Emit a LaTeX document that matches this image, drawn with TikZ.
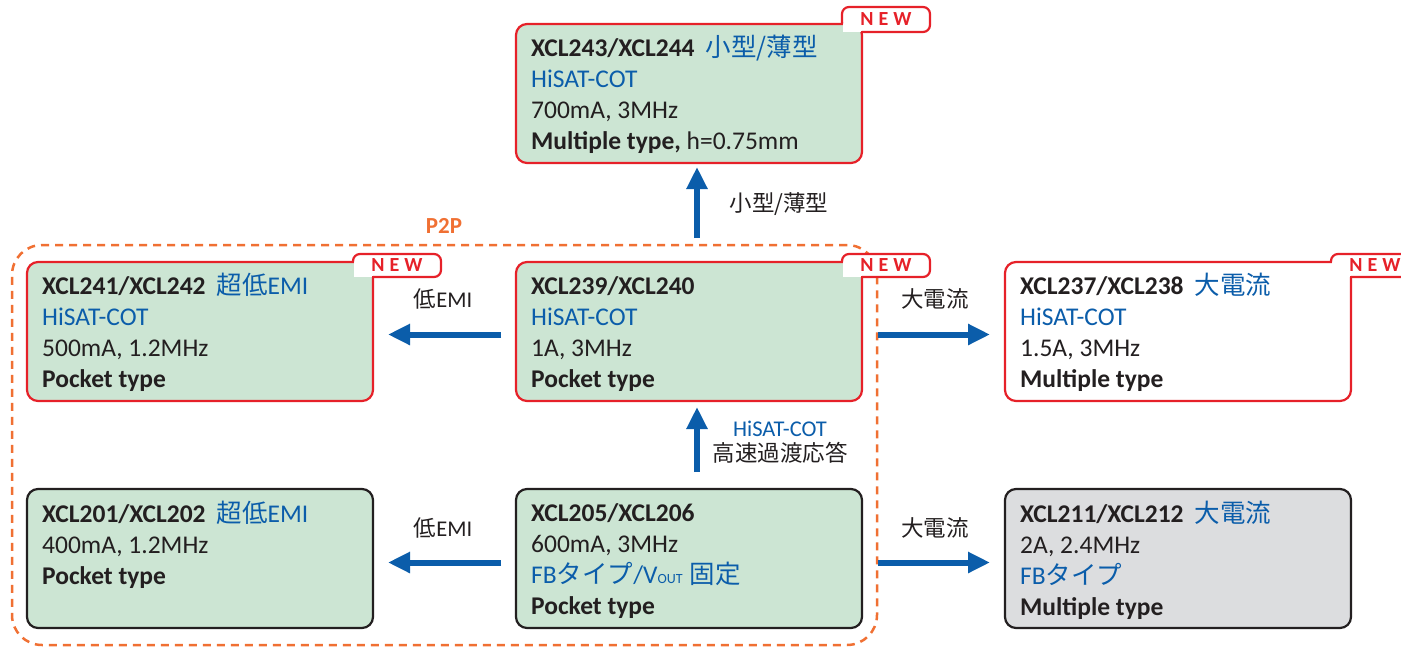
\documentclass[tikz,border=0pt]{standalone}
\usepackage{fontspec}
\setmainfont{Carlito}
\newfontfamily\jp{Noto Sans CJK JP}
\usetikzlibrary{arrows.meta,calc}
\definecolor{boxgreen}{HTML}{CCE5D3}
\definecolor{boxgray}{HTML}{DCDDDF}
\definecolor{nred}{HTML}{E62129}
\definecolor{nblue}{HTML}{0B5DAA}
\definecolor{ndark}{HTML}{231F20}
\definecolor{norange}{HTML}{F07033}
\newcommand\J[1]{{\jp #1}}
\newcommand\B[1]{{\color{nblue}#1}}
% #1 tag name, #2 card name, #3 top offset, #4 bottom offset
\newcommand\newtag[4]{%
  \coordinate (#1-ne) at (#2.north east);
  \fill[white] ($(#1-ne)+(-19,-1.5)$) rectangle ($(#1-ne)+(1.6,#4)$);
  \fill[white, rounded corners=7pt] ($(#1-ne)+(-20,0)$) -- ($(#1-ne)+(-20,#3)$) -- ($(#1-ne)+(68,#3)$) -- ($(#1-ne)+(68,#4)$) -- ($(#1-ne)+(0,#4)$) -- cycle;
  \draw[nred, line width=2.2pt, rounded corners=7pt] ($(#1-ne)+(-20,0)$) -- ($(#1-ne)+(-20,#3)$) -- ($(#1-ne)+(68,#3)$) -- ($(#1-ne)+(68,#4)$) -- ($(#1-ne)+(0,#4)$);
  \draw[nred, line width=2.2pt] ($(#1-ne)+(0,#4-1.1)$) -- ($(#1-ne)+(0,#4+6)$);
  \node[newtxt] (#1) at ($(#1-ne)+(24,{(#3+#4)/2})$) {N\kern5pt E\kern5pt W};
}
\begin{document}
\begin{tikzpicture}[x=1pt,y=-1pt,
  card/.style={draw, line width=2.2pt, rounded corners=11pt, minimum width=346pt, minimum height=139pt, anchor=north west, inner sep=0pt, outer sep=0pt},
  redcard/.style={card, draw=nred, fill=boxgreen},
  redwhite/.style={card, draw=nred, fill=white},
  darkcard/.style={card, draw=ndark, fill=boxgreen},
  graycard/.style={card, draw=ndark, fill=boxgray},
  txt/.style={anchor=base west, inner sep=0pt, text=ndark, font=\fontsize{25.5}{31}\selectfont},
  lab/.style={anchor=base, inner sep=0pt, text=ndark, font=\fontsize{22.5}{27}\selectfont},
  newtxt/.style={inner sep=0pt, text=nred, font=\fontsize{20}{20}\selectfont\bfseries},
  arr/.style={draw=nblue, line width=6pt, -{Triangle[width=20pt,length=22pt]}},
  frame/.style={draw=norange, line width=2.5pt, dash pattern=on 8pt off 6pt, rounded corners=30pt, minimum width=865pt, minimum height=400pt, anchor=north west, inner sep=0pt, outer sep=0pt}
]
\useasboundingbox (0,0) rectangle (1401,646);

% P2P frame
\node[frame] (p2p) at (12,245) {};
\node[lab, text=norange, font=\fontsize{23}{27}\selectfont\bfseries] (p2plab) at (444,233) {P2P};

% cards
\node[redcard] (b243) at (516,24) {};
\node[redcard] (b241) at (27,262) {};
\node[redcard] (b239) at (516,262) {};
\node[redwhite] (b237) at (1005,262) {};
\node[darkcard] (b201) at (27,489) {};
\node[darkcard] (b205) at (516,489) {};
\node[graycard] (b211) at (1005,489) {};

% NEW tags
\newtag{t243}{b243}{-17}{8}
\newtag{t241}{b241}{-8}{15}
\newtag{t239}{b239}{-8}{15}
\newtag{t237}{b237}{-8}{15}

% text of b243
\node[txt] (b243-1) at ($(b243.north west)+(15,32)$) {\textbf{XCL243/XCL244}\hspace{11pt}\B{\J{小型/薄型}}};
\node[txt] (b243-2) at ($(b243.north west)+(15,63)$) {\B{HiSAT-COT}};
\node[txt] (b243-3) at ($(b243.north west)+(15,94)$) {700mA, 3MHz};
\node[txt] (b243-4) at ($(b243.north west)+(15,125)$) {\textbf{Multiple type,} h=0.75mm};

% b241
\node[txt] (b241-1) at ($(b241.north west)+(15,32)$) {\textbf{XCL241/XCL242}\hspace{11pt}\B{\J{超低}EMI}};
\node[txt] (b241-2) at ($(b241.north west)+(15,63)$) {\B{HiSAT-COT}};
\node[txt] (b241-3) at ($(b241.north west)+(15,94)$) {500mA, 1.2MHz};
\node[txt] (b241-4) at ($(b241.north west)+(15,125)$) {\textbf{Pocket type}};

% b239
\node[txt] (b239-1) at ($(b239.north west)+(15,32)$) {\textbf{XCL239/XCL240}};
\node[txt] (b239-2) at ($(b239.north west)+(15,63)$) {\B{HiSAT-COT}};
\node[txt] (b239-3) at ($(b239.north west)+(15,94)$) {1A, 3MHz};
\node[txt] (b239-4) at ($(b239.north west)+(15,125)$) {\textbf{Pocket type}};

% b237
\node[txt] (b237-1) at ($(b237.north west)+(15,32)$) {\textbf{XCL237/XCL238}\hspace{11pt}\B{\J{大電流}}};
\node[txt] (b237-2) at ($(b237.north west)+(15,63)$) {\B{HiSAT-COT}};
\node[txt] (b237-3) at ($(b237.north west)+(15,94)$) {1.5A, 3MHz};
\node[txt] (b237-4) at ($(b237.north west)+(15,125)$) {\textbf{Multiple type}};

% b201
\node[txt] (b201-1) at ($(b201.north west)+(15,33)$) {\textbf{XCL201/XCL202}\hspace{11pt}\B{\J{超低}EMI}};
\node[txt] (b201-2) at ($(b201.north west)+(15,64)$) {400mA, 1.2MHz};
\node[txt] (b201-3) at ($(b201.north west)+(15,95)$) {\textbf{Pocket type}};

% b205
\node[txt] (b205-1) at ($(b205.north west)+(15,32)$) {\textbf{XCL205/XCL206}};
\node[txt] (b205-2) at ($(b205.north west)+(15,63)$) {600mA, 3MHz};
\node[txt] (b205-3) at ($(b205.north west)+(15,94)$) {\B{FB\J{タイプ}/V{\fontsize{14}{14}\selectfont OUT}\hspace{7pt}\J{固定}}};
\node[txt] (b205-4) at ($(b205.north west)+(15,125)$) {\textbf{Pocket type}};

% b211
\node[txt] (b211-1) at ($(b211.north west)+(15,33)$) {\textbf{XCL211/XCL212}\hspace{11pt}\B{\J{大電流}}};
\node[txt] (b211-2) at ($(b211.north west)+(15,64)$) {2A, 2.4MHz};
\node[txt] (b211-3) at ($(b211.north west)+(15,95)$) {\B{FB\J{タイプ}}};
\node[txt] (b211-4) at ($(b211.north west)+(15,126)$) {\textbf{Multiple type}};

% arrows
\draw[arr] ($(b239.north)+(8,-24)$) -- ($(b243.south)+(8,4)$);
\draw[arr] ($(b205.north)+(8,-17)$) -- ($(b239.south)+(8,6)$);
\draw[arr] ($(b239.west)+(-15,3)$) -- ($(b241.east)+(15,3)$);
\draw[arr] ($(b239.east)+(16,3)$) -- ($(b237.west)+(-15,3)$);
\draw[arr] ($(b205.west)+(-15,4)$) -- ($(b201.east)+(15,4)$);
\draw[arr] ($(b205.east)+(16,4)$) -- ($(b211.west)+(-15,4)$);

% labels
\node[lab] (lab1) at (779,211) {\J{小型/薄型}};
\node[lab] (lab2) at (443,307) {\J{低}EMI};
\node[lab] (lab3) at (935,307) {\J{大電流}};
\node[lab, text=nblue] (lab4) at (780,436) {HiSAT-COT};
\node[lab] (lab5) at (780,461) {\J{高速過渡応答}};
\node[lab] (lab6) at (443,536) {\J{低}EMI};
\node[lab] (lab7) at (935,536) {\J{大電流}};
\end{tikzpicture}
\end{document}
